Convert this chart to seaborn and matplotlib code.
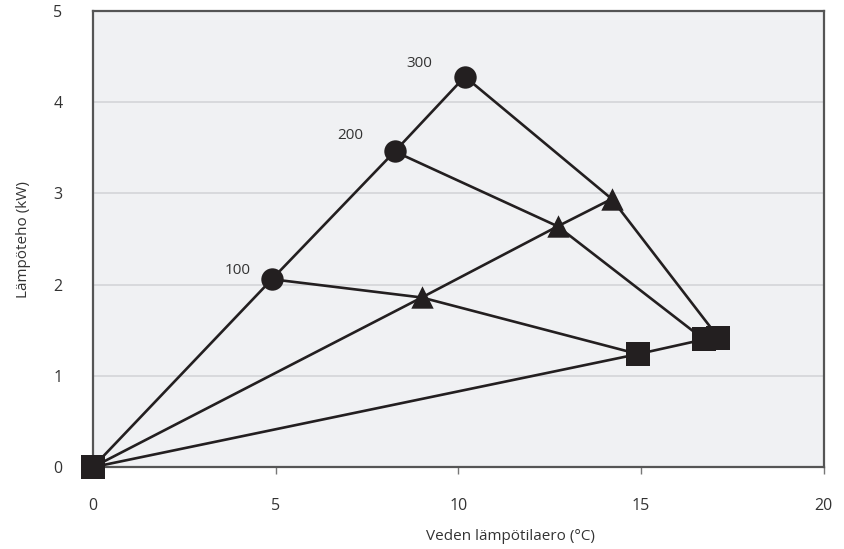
import matplotlib
matplotlib.use("Agg")
import matplotlib.pyplot as plt
import matplotlib.ticker as tic
import seaborn as sns
import pandas as pd

# flow labels and measured points (circle, triangle, square) per flow
FLOWS = ["100", "200", "300"]
CIRCLE_DT = [4.9, 8.26, 10.18]
CIRCLE_P = [2.06, 3.46, 4.28]
TRIANGLE_DT = [9.0, 12.72, 14.2]
TRIANGLE_P = [1.86, 2.64, 2.94]
SQUARE_DT = [14.92, 16.72, 17.12]
SQUARE_P = [1.24, 1.40, 1.42]
ORIGIN = (0.0, 0.0)

INK = "#231f20"
TEXT = "#333333"


def main() -> None:
    sns.set_style("white")
    plt.rcParams['font.family'] = ['Open Sans', 'DejaVu Sans']

    fig = plt.figure(figsize=(8.44, 5.49), dpi=100)
    ax = fig.add_axes([0.110, 0.149, 0.866, 0.831])
    ax.set_facecolor("#f0f1f3")

    # lines from origin through each marker type
    groups = [(CIRCLE_DT, CIRCLE_P), (TRIANGLE_DT, TRIANGLE_P), (SQUARE_DT, SQUARE_P)]
    for xs, ys in groups:
        df = pd.DataFrame({'x': [ORIGIN[0]] + xs, 'y': [ORIGIN[1]] + ys})
        sns.lineplot(data=df, x='x', y='y', sort=False, estimator=None,
                     color=INK, lw=1.9, ax=ax, zorder=3)

    # lines per flow: circle -> triangle -> square
    for i in range(len(FLOWS)):
        df = pd.DataFrame({'x': [CIRCLE_DT[i], TRIANGLE_DT[i], SQUARE_DT[i]],
                           'y': [CIRCLE_P[i], TRIANGLE_P[i], SQUARE_P[i]]})
        sns.lineplot(data=df, x='x', y='y', sort=False, estimator=None,
                     color=INK, lw=1.9, ax=ax, zorder=3)

    sns.scatterplot(x=CIRCLE_DT, y=CIRCLE_P, marker='o', s=260, color=INK,
                    linewidth=0, ax=ax, zorder=4)
    sns.scatterplot(x=TRIANGLE_DT, y=TRIANGLE_P, marker='^', s=260, color=INK,
                    linewidth=0, ax=ax, zorder=4)
    sns.scatterplot(x=SQUARE_DT + [ORIGIN[0]], y=SQUARE_P + [ORIGIN[1]],
                    marker='s', s=300, color=INK, linewidth=0, ax=ax,
                    zorder=4, clip_on=False)

    offsets = [(-25, 6.5), (-32, 11.5), (-33, 9.5)]
    for lab, x, y, off in zip(FLOWS, CIRCLE_DT, CIRCLE_P, offsets):
        ax.annotate(lab, (x, y), xytext=off, textcoords='offset points',
                    ha='center', va='center', fontsize=11, color=TEXT)

    ax.set_xlim(0, 20)
    ax.set_ylim(0, 5)
    ax.xaxis.set_major_locator(tic.MultipleLocator(5))
    ax.yaxis.set_major_locator(tic.MultipleLocator(1))
    ax.grid(True, axis='y', color="#d4d5d8", lw=1.2)
    ax.set_axisbelow(True)

    for s in ax.spines.values():
        s.set_color("#555555")
        s.set_linewidth(1.6)
        s.set_visible(True)

    ax.tick_params(axis='x', length=5, width=1, color="#777777", pad=17,
                   labelsize=11.5, labelcolor=TEXT, direction='out', bottom=True)
    ax.tick_params(axis='y', length=0, pad=22, labelsize=11.5, labelcolor=TEXT)

    ax.set_xlabel("Veden lämpötilaero (°C)", fontsize=11, color=TEXT, labelpad=14)
    ax.xaxis.set_label_coords(0.572, -0.135)
    ax.set_ylabel("Lämpöteho (kW)", fontsize=11, color=TEXT, labelpad=16)

    fig.savefig("out.png", dpi=100)


if __name__ == '__main__':
    main()
